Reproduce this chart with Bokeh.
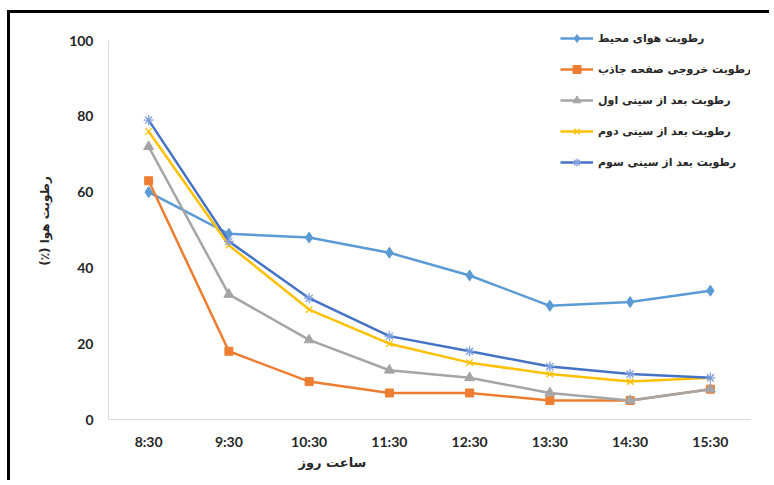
from bokeh.plotting import figure
from bokeh.models import FactorRange, Range1d, FixedTicker, Legend, LegendItem, Title
from bokeh.embed import file_html
from bokeh.resources import INLINE

times = ["8:30", "9:30", "10:30", "11:30", "12:30", "13:30", "14:30", "15:30"]
ambient = [60, 49, 48, 44, 38, 30, 31, 34]
absorber_out = [63, 18, 10, 7, 7, 5, 5, 8]
after_tray1 = [72, 33, 21, 13, 11, 7, 5, 8]
after_tray2 = [76, 46, 29, 20, 15, 12, 10, 11]
after_tray3 = [79, 47, 32, 22, 18, 14, 12, 11]
y_ticks = [0, 20, 40, 60, 80, 100]

names = ["رطوبت هوای محیط", "رطوبت خروجی صفحه جاذب", "رطوبت بعد از سینی اول",
         "رطوبت بعد از سینی دوم", "رطوبت بعد از سینی سوم"]
y_title = "\u202bرطوبت هوا (٪)\u202c"
x_title = "ساعت روز"

p = figure(width=762, height=470, x_range=FactorRange(*times, range_padding=0),
           y_range=Range1d(0, 104.75), output_backend="svg", toolbar_location=None,
           min_border_left=98, min_border_right=22, min_border_top=9, min_border_bottom=64)
p.styles = {"margin-left": "7px", "margin-top": "10px",
            "border-left": "3px solid black", "border-top": "3px solid black"}
p.outline_line_color = None
p.xgrid.grid_line_color = None
p.ygrid.grid_line_color = None

for ax in (p.xaxis[0], p.yaxis[0]):
    ax.axis_line_color = "#d9d9d9"
    ax.major_tick_line_color = None
    ax.minor_tick_line_color = None
    ax.major_tick_in = 0
    ax.major_tick_out = 0
    ax.major_label_text_font = "Lato"
    ax.major_label_text_font_style = "bold"
    ax.major_label_text_font_size = "14px"
    ax.major_label_text_color = "#262626"
p.xaxis[0].major_label_standoff = 13
p.yaxis[0].major_label_standoff = 15
p.yaxis[0].ticker = FixedTicker(ticks=y_ticks)
p.yaxis[0].bounds = (0, 100)
p.yaxis[0].axis_label = y_title
p.yaxis[0].axis_label_text_font = "DejaVu Sans"
p.yaxis[0].axis_label_text_font_style = "bold"
p.yaxis[0].axis_label_text_font_size = "12px"
p.yaxis[0].axis_label_text_color = "#262626"
p.yaxis[0].axis_label_standoff = 14

# x title, placed off-centre like the reference
p.add_layout(Title(text=x_title, align="left", offset=190, standoff=0,
                   text_font="DejaVu Sans", text_font_style="bold",
                   text_font_size="13px", text_color="#262626"), "below")

series = [ambient, absorber_out, after_tray1, after_tray2, after_tray3]
line_colors = ["#5B9BD5", "#ED7D31", "#A5A5A5", "#FFC000", "#4472C4"]
marker_colors = ["#5B9BD5", "#ED7D31", "#A5A5A5", "#FFC000", "#7F9FE0"]
markers = ["diamond", "square", "triangle", "x", "asterisk"]
sizes = [11, 8, 10, 9, 10]

items = []
for vals, lc, mc, mk, sz, nm in zip(series, line_colors, marker_colors, markers, sizes, names):
    r1 = p.line(times, vals, line_color=lc, line_width=2.5)
    if mk in ("x", "asterisk"):
        r2 = p.scatter(times, vals, marker=mk, size=sz, line_color=mc, line_width=1.3)
    else:
        r2 = p.scatter(times, vals, marker=mk, size=sz, fill_color=mc, line_color=mc)
    items.append(LegendItem(label=nm, renderers=[r1, r2]))

legend = Legend(items=items, location=(452, 247), glyph_width=33, glyph_height=20,
                label_height=20, spacing=11, padding=0, margin=0, label_standoff=5,
                label_text_font="DejaVu Sans", label_text_font_style="bold",
                label_text_font_size="11px", label_text_color="#262626",
                border_line_color=None, background_fill_alpha=0)
p.add_layout(legend)

open("out.html", "w").write(file_html(p, INLINE))
